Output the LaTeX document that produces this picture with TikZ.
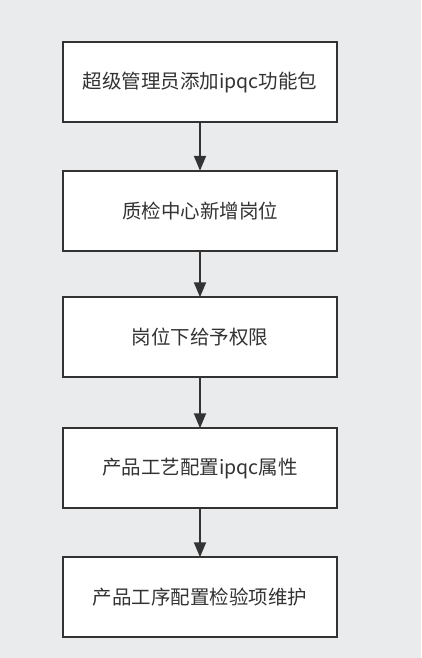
\documentclass[tikz,border=0pt]{standalone}
\usepackage{fontspec}
\usepackage{xcolor}
\setmainfont{Noto Sans CJK SC}
\usetikzlibrary{positioning}
\usetikzlibrary{arrows.meta}
\definecolor{bggray}{HTML}{EAEBED}
\definecolor{linegray}{HTML}{333333}

\begin{document}
\begin{tikzpicture}[x=1pt, y=-1pt, stepbox/.style={rectangle,draw=linegray,fill=white,line width=2pt,outer sep=0pt,minimum width=274pt,minimum height=80pt,inner sep=0pt,font=\fontsize{19.5}{22}\selectfont,text=linegray}, flow/.style={draw=linegray,line width=2pt,-{Triangle[length=15pt,width=12pt]}}]
	\fill[bggray] (0,0) rectangle (421,658);
	\useasboundingbox (0,0) rectangle (421,658);
	\node[stepbox] (addpkg) at (200,82.25) {超级管理员添加ipqc功能包};
	\node[stepbox] (newpost) [below = 48.5pt of addpkg] {质检中心新增岗位};
	\node[stepbox] (grant) [below = 46.5pt of newpost] {岗位下给予权限};
	\node[stepbox] (craft) [below = 51pt of grant] {产品工艺配置ipqc属性};
	\node[stepbox] (process) [below = 49pt of craft] {产品工序配置检验项维护};
	\draw[flow] (addpkg) -- (newpost);
	\draw[flow] (newpost) -- (grant);
	\draw[flow] (grant) -- (craft);
	\draw[flow] (craft) -- (process);
\end{tikzpicture}
\end{document}
